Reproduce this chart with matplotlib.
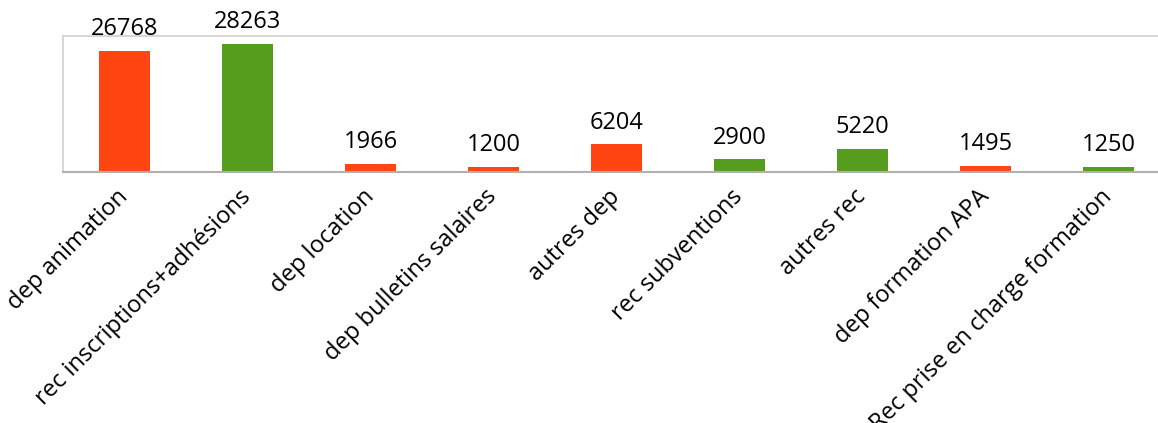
import matplotlib
matplotlib.use("Agg")
import matplotlib.pyplot as plt

categories = ["dep animation", "rec inscriptions+adhésions", "dep location",
              "dep bulletins salaires", "autres dep", "rec subventions",
              "autres rec", "dep formation APA", "Rec prise en charge formation"]
values = [26768, 28263, 1966, 1200, 6204, 2900, 5220, 1495, 1250]
kinds = ["dep", "rec", "dep", "dep", "dep", "rec", "rec", "dep", "rec"]
palette = {"dep": "#FF4512", "rec": "#569D1E"}

plt.rcParams['font.family'] = ['Open Sans', 'DejaVu Sans']

fig = plt.figure(figsize=(11.58, 4.23), dpi=100)
ax = fig.add_axes([63/1158, 1 - 172.5/423, 1107/1158, (172.5 - 36)/423])

x = list(range(len(categories)))
bars = ax.bar(x, values, width=0.41, color=[palette[k] for k in kinds], zorder=2)

for xi, v in zip(x, values):
    ax.annotate(f"{v}", (xi, v), xytext=(0, 7), textcoords="offset points",
                ha="center", va="bottom", fontsize=17, color="#000000")

ax.set_xlim(-0.5, len(categories) - 0.5)
ax.set_ylim(0, 30000)
ax.set_yticks([])
ax.set_xticks(x)
ax.set_xticklabels(categories, rotation=45, ha="right", va="center",
                   rotation_mode="anchor", fontsize=17)
ax.tick_params(axis="x", length=0, pad=15)

for s in ["top", "left", "right"]:
    ax.spines[s].set_color("#D0D0D0")
    ax.spines[s].set_linewidth(1.2)
ax.spines["bottom"].set_color("#B0B0B0")
ax.spines["bottom"].set_linewidth(1.5)

fig.savefig("out.png", dpi=100)
